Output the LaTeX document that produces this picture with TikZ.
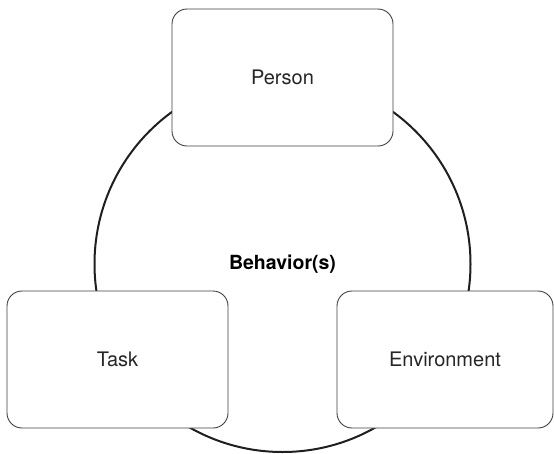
\documentclass[tikz,border=0pt]{standalone}
\usepackage{fontspec}
\setmainfont{TeX Gyre Heros}
\begin{document}
\begin{tikzpicture}[x=1pt,y=-1pt,
  factor/.style={draw=black!75, line width=0.9pt, rounded corners=15pt, fill=white,
    minimum height=137pt, inner sep=0pt, font=\fontsize{20}{24}\selectfont, text=black!85},
  ring/.style={draw=black!88, line width=2pt, circle, minimum size=376pt, inner sep=0pt,
    font=\bfseries\fontsize{19.5}{23}\selectfont, text=black}]
\useasboundingbox (0,0) rectangle (554,453);
\node[ring] (beh) at (282.5,264) {Behavior(s)};
\node[factor, minimum width=221pt] (person) at (282.5,77.5) {Person};
\node[factor, minimum width=221pt] (task) at (117.5,359.5) {Task};
\node[factor, minimum width=216pt] (env) at (445,359.5) {Environment};
\end{tikzpicture}
\end{document}
